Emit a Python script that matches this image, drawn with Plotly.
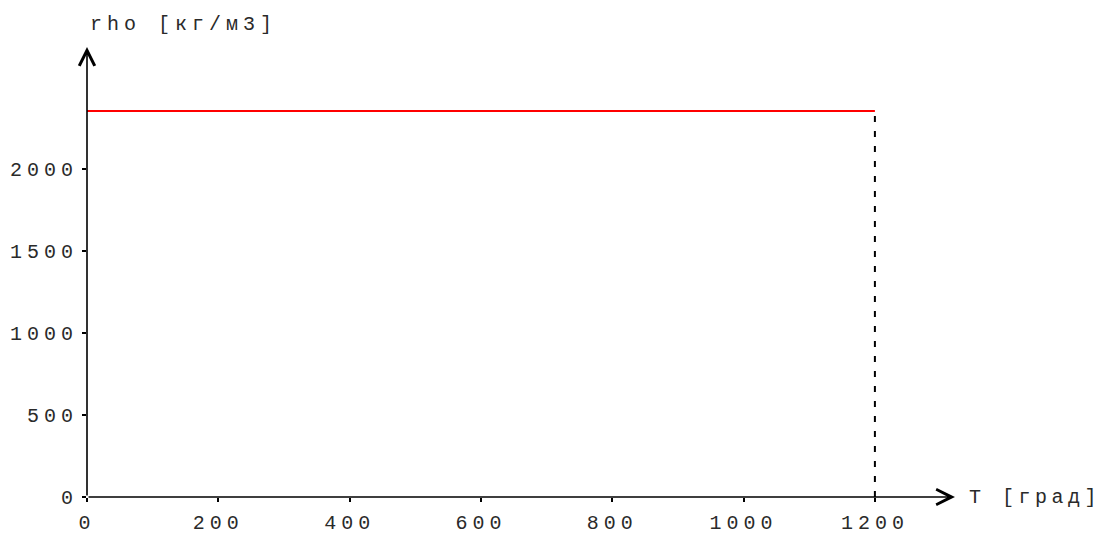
import plotly.graph_objects as go

# Data
T_vals = [0, 1200]
rho_vals = [2350, 2350]
x_ticks = [0, 200, 400, 600, 800, 1000, 1200]
y_ticks = [0, 500, 1000, 1500, 2000]
x_title = "T [град]"
y_title = "rho [кг/м3]"

FONT = "Liberation Mono, Courier New, monospace"

def spaced(s, sp=5):
    return f'<span style="letter-spacing:{sp}px">{s}</span>'

fig = go.Figure()
fig.add_trace(go.Scatter(x=T_vals, y=rho_vals, mode="lines",
                         line=dict(color="#ff0000", width=2), showlegend=False,
                         hoverinfo="skip"))
# dashed drop line at end
fig.add_trace(go.Scatter(x=[T_vals[-1], T_vals[-1]], y=[0, rho_vals[-1]], mode="lines",
                         line=dict(color="black", width=2, dash="6px,9px"),
                         showlegend=False, hoverinfo="skip"))

XMAX, YMAX = 1322, 2740
W, H = 1104, 535
l, r, t, b = 87, 149, 47, 38

fig.update_layout(
    width=W, height=H,
    margin=dict(l=l, r=r, t=t, b=b, autoexpand=False),
    paper_bgcolor="white", plot_bgcolor="white",
    font=dict(family=FONT, size=20, color="#2a2a2a"),
    xaxis=dict(range=[0, XMAX], showgrid=False, zeroline=False, showline=False,
               automargin=False,
               tickvals=x_ticks, ticktext=[spaced(str(v)) for v in x_ticks],
               ticks="outside", ticklen=4, tickwidth=1.5, tickcolor="black",
               ticklabelstandoff=3),
    yaxis=dict(range=[0, YMAX], showgrid=False, zeroline=False, showline=False,
               automargin=False,
               tickvals=y_ticks, ticktext=[spaced(str(v)) for v in y_ticks],
               ticks="outside", ticklen=4, tickwidth=1.5, tickcolor="black",
               ticklabelstandoff=0),
)

# axis arrows
fig.add_annotation(x=XMAX, y=0, ax=0, ay=0, xref="x", yref="y", axref="x", ayref="y",
                   text="", showarrow=True, arrowhead=5, arrowwidth=1.6, arrowsize=1.9,
                   arrowcolor="black")
fig.add_annotation(x=0, y=YMAX, ax=0, ay=0, xref="x", yref="y", axref="x", ayref="y",
                   text="", showarrow=True, arrowhead=5, arrowwidth=1.6, arrowsize=1.9,
                   arrowcolor="black")

# axis titles (pixel positions, converted to paper coords below)
fig.add_annotation(x=967, y=497, xref="paper", yref="paper", text=spaced(x_title, 4.5),
                   showarrow=False, xanchor="left", yanchor="middle")
fig.add_annotation(x=88, y=24, xref="paper", yref="paper", text=spaced(y_title),
                   showarrow=False, xanchor="left", yanchor="middle")

pw, ph = W - l - r, H - t - b
for ann in fig.layout.annotations:
    if ann.xref == "paper":
        ann.x = (ann.x - l) / pw
        ann.y = (H - b - ann.y) / ph

fig.write_html(
    "out.html",
    config={"displayModeBar": False},
    post_script="document.body.style.margin='0';document.body.style.overflow='hidden';",
)
